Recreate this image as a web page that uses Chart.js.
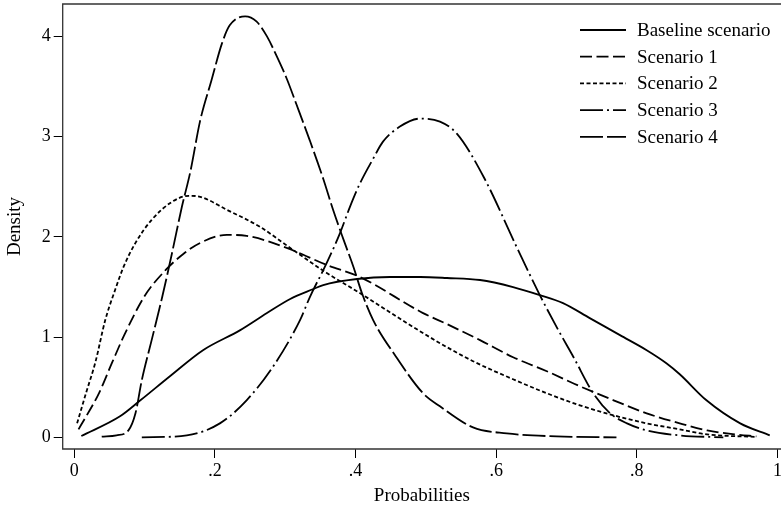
<!DOCTYPE html>
<html lang="en">
<head>
  <meta charset="UTF-8">
  <title>Density by scenario</title>
  <script src="https://cdn.jsdelivr.net/npm/chart.js"></script>
  <style>
    * { margin: 0; padding: 0; box-sizing: border-box; }
    body { background: #fff; }
    .chart-container { width: 781px; height: 512px; position: relative; }
  </style>
</head>
<body>
  <div class="chart-container">
    <canvas id="densityChart"></canvas>
  </div>

  <script>
    // values
    const baseX = [0.01, 0.065, 0.094, 0.136, 0.183, 0.236, 0.274, 0.307, 0.34, 0.354, 0.402, 0.449, 0.492, 0.53, 0.577, 0.624, 0.662, 0.695, 0.733, 0.776, 0.814, 0.842, 0.861, 0.899, 0.947, 0.989];
    const baseY = [0.014, 0.21, 0.37, 0.61, 0.87, 1.07, 1.24, 1.38, 1.48, 1.52, 1.58, 1.60, 1.60, 1.59, 1.57, 1.50, 1.42, 1.34, 1.19, 1.02, 0.87, 0.74, 0.63, 0.37, 0.14, 0.02];

    const s1X = [0.006, 0.035, 0.054, 0.071, 0.1, 0.13, 0.155, 0.179, 0.217, 0.245, 0.302, 0.359, 0.406, 0.496, 0.53, 0.577, 0.624, 0.672, 0.719, 0.767, 0.814, 0.861, 0.9, 0.94, 0.97];
    const s1Y = [0.08, 0.44, 0.75, 1.02, 1.41, 1.67, 1.83, 1.94, 2.02, 2.01, 1.89, 1.72, 1.60, 1.24, 1.13, 0.97, 0.80, 0.66, 0.51, 0.37, 0.24, 0.14, 0.07, 0.03, 0.01];

    const s2X = [0.004, 0.017, 0.03, 0.044, 0.058, 0.07, 0.087, 0.11, 0.139, 0.163, 0.179, 0.217, 0.264, 0.311, 0.359, 0.406, 0.473, 0.52, 0.567, 0.624, 0.672, 0.719, 0.767, 0.814, 0.861, 0.9, 0.97];
    const s2Y = [0.14, 0.45, 0.75, 1.17, 1.47, 1.70, 1.94, 2.17, 2.35, 2.41, 2.40, 2.27, 2.10, 1.87, 1.64, 1.44, 1.14, 0.94, 0.76, 0.58, 0.44, 0.32, 0.22, 0.14, 0.08, 0.03, 0.005];

    const s3X = [0.096, 0.16, 0.207, 0.245, 0.283, 0.321, 0.335, 0.359, 0.378, 0.392, 0.406, 0.425, 0.439, 0.463, 0.492, 0.52, 0.544, 0.582, 0.631, 0.662, 0.686, 0.71, 0.738, 0.762, 0.786, 0.814, 0.861, 0.923];
    const s3Y = [0, 0.02, 0.14, 0.37, 0.71, 1.17, 1.40, 1.74, 2.04, 2.30, 2.53, 2.78, 2.95, 3.10, 3.18, 3.15, 3.03, 2.60, 1.87, 1.42, 1.10, 0.80, 0.44, 0.24, 0.14, 0.07, 0.02, 0];

    const s4X = [0.039, 0.06, 0.077, 0.087, 0.096, 0.11, 0.125, 0.139, 0.153, 0.165, 0.179, 0.195, 0.21, 0.221, 0.243, 0.259, 0.274, 0.288, 0.302, 0.316, 0.335, 0.354, 0.368, 0.383, 0.397, 0.409, 0.425, 0.458, 0.496, 0.52, 0.567, 0.615, 0.686, 0.771];
    const s4Y = [0.007, 0.02, 0.07, 0.24, 0.57, 0.97, 1.40, 1.84, 2.30, 2.65, 3.16, 3.56, 3.93, 4.11, 4.20, 4.15, 4.00, 3.80, 3.58, 3.32, 2.96, 2.58, 2.27, 1.97, 1.70, 1.44, 1.17, 0.80, 0.44, 0.31, 0.10, 0.04, 0.01, 0];

    const seriesNames = ['Baseline scenario', 'Scenario 1', 'Scenario 2', 'Scenario 3', 'Scenario 4'];
    const xTicks = [0, 0.2, 0.4, 0.6, 0.8, 1];
    const yTicks = [0, 1, 2, 3, 4];

    const serif = "'Liberation Serif', 'Times New Roman', serif";
    const dashes = [[], [12, 4.5], [4, 2.5], [23, 4, 2, 4], [23, 4]];
    const xs = [baseX, s1X, s2X, s3X, s4X];
    const ys = [baseY, s1Y, s2Y, s3Y, s4Y];

    const datasets = seriesNames.map((name, i) => ({
      label: name,
      data: xs[i].map((x, j) => ({ x: x, y: ys[i][j] })),
      borderColor: '#000',
      borderWidth: 1.8,
      borderDash: dashes[i],
      pointRadius: 0,
      cubicInterpolationMode: 'monotone',
      fill: false
    }));

    // box lines (top/left/bottom) + legend inside plot area
    const stataFrame = {
      id: 'stataFrame',
      afterDraw(chart) {
        const { ctx, chartArea: a } = chart;
        ctx.save();
        ctx.strokeStyle = '#333';
        ctx.lineWidth = 1.3;
        ctx.beginPath();
        ctx.moveTo(a.right, a.top);
        ctx.lineTo(a.left, a.top);
        ctx.lineTo(a.left, a.bottom);
        ctx.lineTo(a.right, a.bottom);
        ctx.stroke();

        ctx.font = '19px ' + serif;
        ctx.fillStyle = '#000';
        ctx.textBaseline = 'middle';
        chart.data.datasets.forEach((ds, i) => {
          const y = 30 + i * 26.7;
          ctx.strokeStyle = '#000';
          ctx.lineWidth = 1.8;
          ctx.setLineDash(ds.borderDash);
          ctx.beginPath();
          ctx.moveTo(580, y);
          ctx.lineTo(626, y);
          ctx.stroke();
          ctx.setLineDash([]);
          ctx.fillText(ds.label, 637, y + 1);
        });
        ctx.restore();
      }
    };

    const ctx = document.getElementById('densityChart').getContext('2d');
    new Chart(ctx, {
      type: 'line',
      data: { datasets: datasets },
      options: {
        responsive: true,
        maintainAspectRatio: false,
        animation: false,
        layout: { padding: { top: 4, right: 0, left: 0, bottom: 0 } },
        plugins: { legend: { display: false }, tooltip: { enabled: false } },
        scales: {
          x: {
            type: 'linear',
            min: -0.0165,
            max: 1.005,
            afterBuildTicks: s => { s.ticks = xTicks.map(v => ({ value: v })); },
            afterFit: s => { s.height = 63; s.paddingLeft = 0; s.paddingRight = 0; },
            grid: { drawOnChartArea: false, drawTicks: true, tickLength: 9, color: '#000', lineWidth: 1 },
            border: { display: false },
            ticks: {
              color: '#000',
              font: { family: serif, size: 18 },
              padding: 2,
              maxRotation: 0,
              callback: v => v === 0 ? '0' : v === 1 ? '1' : String(+v.toFixed(1)).replace('0.', '.')
            },
            title: { display: true, text: 'Probabilities', color: '#000', font: { family: serif, size: 19 }, padding: 5 }
          },
          y: {
            min: -0.1157,
            max: 4.323,
            afterBuildTicks: s => { s.ticks = yTicks.map(v => ({ value: v })); },
            afterFit: s => { s.width = 62.7; s.paddingTop = 0; s.paddingBottom = 0; },
            grid: { drawOnChartArea: false, drawTicks: true, tickLength: 9, color: '#000', lineWidth: 1 },
            border: { display: false },
            ticks: { color: '#000', font: { family: serif, size: 18 }, padding: 3 },
            title: { display: true, text: 'Density', color: '#000', font: { family: serif, size: 19 }, padding: 4 }
          }
        }
      },
      plugins: [stataFrame]
    });
  </script>
</body>
</html>
